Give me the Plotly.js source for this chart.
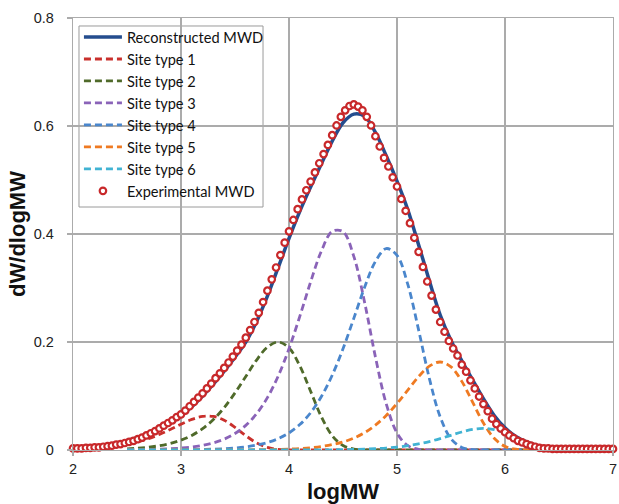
<!DOCTYPE html>
<html>
<head>
<meta charset="utf-8">
<script src="https://cdn.plot.ly/plotly-3.0.1.min.js"></script>
<style>
  html, body { margin: 0; padding: 0; background: #ffffff; }
  #chart { width: 619px; height: 504px; }
</style>
</head>
<body>
<div id="chart"></div>
<script>
// ---------------- data ----------------
// logMW grid of the model curves (reconstructed + site types)
const compX = [2.5,2.6,2.7,2.8,2.9,3.0,3.1,3.2,3.3,3.4,3.5,3.6,3.7,3.8,3.9,4.0,4.1,4.2,4.3,4.4,
               4.5,4.6,4.7,4.8,4.9,5.0,5.1,5.2,5.3,5.4,5.5,5.6,5.7,5.8,5.9,6.0,6.1,6.2,6.3,6.4,6.5];

const reconstructed = [0.018,0.023,0.029,0.038,0.050,0.063,0.080,0.100,0.122,0.146,0.172,0.200,0.238,0.285,
                       0.338,0.392,0.442,0.487,0.530,0.572,0.606,0.622,0.618,0.588,0.545,0.498,0.445,0.380,
                       0.313,0.250,0.203,0.165,0.130,0.095,0.064,0.041,0.025,0.015,0.008,0.004,0.002];

const site1 = [0.0103,0.0149,0.0210,0.0288,0.0380,0.0478,0.0566,0.0622,0.0621,0.0551,0.0420,0.0265,0.0132,
               0.0049,0.0012,0.0002,0,0,0,0,0,0,0,0,0,0,0,0,0,0,0,0,0,0,0,0,0,0,0,0,0];

const site2 = [0.0022,0.0034,0.0052,0.0080,0.0121,0.0182,0.0270,0.0395,0.0564,0.0785,0.1057,0.1362,0.1666,
               0.1904,0.2000,0.1889,0.1559,0.1088,0.0614,0.0265,0.0082,0.0017,0.0002,
               0,0,0,0,0,0,0,0,0,0,0,0,0,0,0,0,0,0];

const site3 = [0.0004,0.0006,0.0009,0.0014,0.0023,0.0036,0.0055,0.0086,0.0132,0.0201,0.0305,0.0456,0.0671,
               0.0970,0.1369,0.1876,0.2474,0.3111,0.3685,0.4048,0.4044,0.3585,0.2734,0.1725,0.0858,0.0316,
               0.0080,0.0013,0.0001,0,0,0,0,0,0,0,0,0,0,0,0];

const site4 = [0.0001,0.0001,0.0002,0.0002,0.0003,0.0004,0.0006,0.0010,0.0015,0.0024,0.0037,0.0058,0.0090,
               0.0138,0.0210,0.0317,0.0471,0.0690,0.0990,0.1385,0.1875,0.2438,0.3012,0.3491,0.3731,0.3604,
               0.3066,0.2224,0.1322,0.0612,0.0207,0.0048,0.0007,0.0001,0,0,0,0,0,0,0];

const site5 = [0,0,0,0,0,0,0,0,0.0001,0.0001,0.0002,0.0003,0.0005,0.0007,0.0011,0.0018,0.0027,0.0042,0.0065,
               0.0099,0.0148,0.0220,0.0322,0.0460,0.0640,0.0861,0.1110,0.1357,0.1552,0.1630,0.1539,0.1271,
               0.0887,0.0500,0.0216,0.0067,0.0014,0.0002,0,0,0];

const site6 = [0,0,0,0,0,0,0,0,0,0,0,0,0,0,0,0.0001,0.0001,0.0002,0.0003,0.0004,0.0007,0.0010,0.0016,0.0024,
               0.0036,0.0054,0.0079,0.0113,0.0157,0.0211,0.0272,0.0333,0.0381,0.0400,0.0378,0.0312,0.0218,
               0.0123,0.0053,0.0016,0.0003];

// experimental MWD: logMW from 2.00 to 7.00 in steps of 0.04
const expStart = 2.0, expStep = 0.04;
const experimental = [
  0.003,0.003,0.003,0.004,0.004,0.005,0.005,0.006,0.007,0.008,
  0.010,0.011,0.013,0.015,0.017,0.020,0.023,0.027,0.031,0.035,
  0.040,0.045,0.050,0.055,0.061,0.066,0.073,0.081,0.089,0.097,
  0.105,0.114,0.123,0.133,0.142,0.152,0.162,0.173,0.184,0.195,
  0.208,0.222,0.237,0.254,0.274,0.295,0.316,0.338,0.361,0.384,
  0.405,0.426,0.446,0.464,0.481,0.497,0.514,0.531,0.548,0.565,
  0.583,0.601,0.617,0.629,0.637,0.640,0.636,0.629,0.617,0.601,
  0.581,0.562,0.541,0.525,0.505,0.488,0.465,0.443,0.420,0.393,
  0.367,0.339,0.312,0.286,0.260,0.237,0.219,0.202,0.188,0.175,
  0.158,0.145,0.129,0.114,0.099,0.085,0.072,0.058,0.048,0.040,
  0.033,0.027,0.022,0.017,0.014,0.011,0.008,0.006,0.004,0.003,
  0.003,0.002,0.002,0.002,0.002,0.002,0.002,0.002,0.002,0.002,
  0.002,0.002,0.002,0.002,0.002,0.002];

const xTicks = [2,3,4,5,6,7];
const yTicks = [0,0.2,0.4,0.6,0.8];
const yTickText = ['0','0.2','0.4','0.6','0.8'];

const seriesNames = ['Site type 1','Site type 2','Site type 3','Site type 4','Site type 5','Site type 6'];
const seriesColors = ['#c9302c','#4f6a2a','#8a63b8','#4a86cc','#ef7a22','#41b3d3'];
const seriesData = [site1, site2, site3, site4, site5, site6];

// ---------------- traces ----------------
const traces = [];
traces.push({
  type: 'scatter', mode: 'lines', name: 'Reconstructed MWD',
  x: compX, y: reconstructed,
  line: { color: '#244d8e', width: 3.5, shape: 'spline', smoothing: 1 },
  hoverinfo: 'skip'
});
seriesData.forEach((s, i) => {
  traces.push({
    type: 'scatter', mode: 'lines', name: seriesNames[i],
    x: compX, y: s,
    line: { color: seriesColors[i], width: 2.8, dash: '7px,4px', shape: 'spline', smoothing: 1 },
    hoverinfo: 'skip'
  });
});
traces.push({
  type: 'scatter', mode: 'markers', name: 'Experimental MWD',
  x0: expStart, dx: expStep, y: experimental,
  marker: { symbol: 'circle', size: 6.5, color: '#ffffff', line: { color: '#c8282a', width: 2.2 } },
  cliponaxis: false,
  hoverinfo: 'skip'
});

const grid = '#ababab';
const tickFont = { family: 'Liberation Sans, Arial, sans-serif', size: 14.5, color: '#222222' };
const titleFont = { family: 'Liberation Sans, Arial, sans-serif', size: 22, color: '#111111', weight: 'bold' };

const layout = {
  width: 619, height: 504,
  margin: { l: 73, r: 6, t: 18, b: 54, pad: 0 },
  paper_bgcolor: '#ffffff', plot_bgcolor: '#ffffff',
  showlegend: true,
  xaxis: {
    range: [2, 7], tickmode: 'array', tickvals: xTicks, ticktext: xTicks.map(String),
    showgrid: true, gridcolor: grid, gridwidth: 1.3,
    showline: true, linecolor: grid, linewidth: 1.3, mirror: true,
    ticks: 'outside', ticklen: 5, tickcolor: grid, tickwidth: 1.3,
    zeroline: false, tickfont: tickFont,
    title: { text: '<b>logMW</b>', font: titleFont, standoff: 8 }
  },
  yaxis: {
    range: [0, 0.8], tickmode: 'array', tickvals: yTicks, ticktext: yTickText,
    showgrid: true, gridcolor: grid, gridwidth: 1.3,
    showline: true, linecolor: grid, linewidth: 1.3, mirror: true,
    ticks: 'outside', ticklen: 5, tickcolor: grid, tickwidth: 1.3,
    zeroline: false, tickfont: tickFont, ticklabelstandoff: 10,
    title: { text: '<b>dW/dlogMW</b>', font: titleFont, standoff: 2 }
  },
  shapes: [{
    type: 'rect', xref: 'paper', yref: 'paper', layer: 'between',
    x0: 0.0111, x1: 0.3519, y0: 0.5625, y1: 0.9815,
    fillcolor: '#ffffff', line: { color: '#9a9a9a', width: 1 }
  }],
  legend: {
    x: 0.011, y: 0.993, xanchor: 'left', yanchor: 'top',
    bgcolor: 'rgba(0,0,0,0)', borderwidth: 0, itemwidth: 38,
    font: { family: 'Lato, Liberation Sans, sans-serif', size: 14.6, color: '#111111' },
    tracegroupgap: 0
  }
};

Plotly.newPlot('chart', traces, layout, { staticPlot: true, displayModeBar: false });
</script>
</body>
</html>
